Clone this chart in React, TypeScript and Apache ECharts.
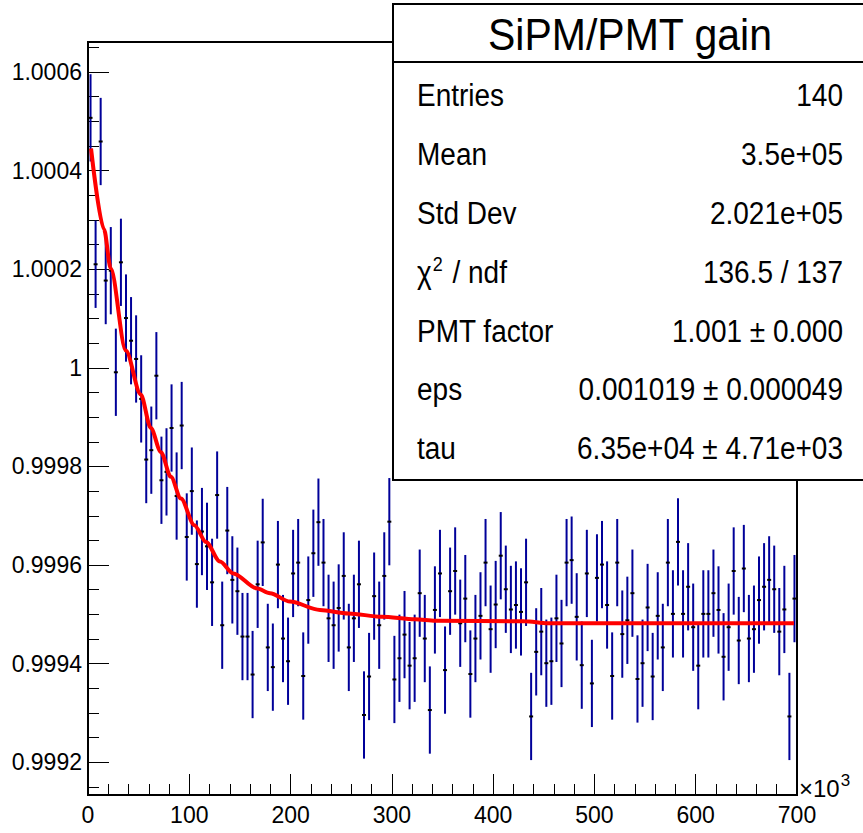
import React, { useEffect, useRef } from "react";
import * as echarts from "echarts";

// bin centres (x10^3) of the 140 bins, width 5
const BIN_WIDTH = 5;
const GAIN: number[] = [
  1.000507, 1.00021, 1.000459, 1.000177, 1.000197, 0.999991, 1.000214, 1.000101, 1.000055, 1.000018,
  0.999937, 0.999814, 0.999833, 0.999984, 0.999772, 0.999789, 0.999878, 0.99974, 0.999883, 0.999657,
  0.99975, 0.999602, 0.999668, 0.999638, 0.999565, 0.999742, 0.999478, 0.99967, 0.99957, 0.999547,
  0.999455, 0.999455, 0.999378, 0.999561, 0.999646, 0.999433, 0.999393, 0.999601, 0.999451, 0.999405,
  0.999583, 0.999605, 0.999375, 0.999529, 0.999624, 0.999687, 0.999605, 0.999492, 0.999478, 0.999513,
  0.999578, 0.999433, 0.999492, 0.999561, 0.999296, 0.999374, 0.999537, 0.999478, 0.999578, 0.999688,
  0.999368, 0.999411, 0.999459, 0.999396, 0.999411, 0.999543, 0.999451, 0.999306, 0.999509, 0.999583,
  0.999387, 0.999547, 0.999588, 0.999482, 0.999532, 0.999379, 0.999451, 0.999497, 0.999605, 0.99947,
  0.99952, 0.999619, 0.999551, 0.99951, 0.999519, 0.999505, 0.999565, 0.999293, 0.999424, 0.999465,
  0.999401, 0.999405, 0.999492, 0.999441, 0.999605, 0.99961, 0.999495, 0.999397, 0.999583, 0.99936,
  0.999574, 0.999601, 0.999519, 0.999375, 0.999605, 0.99946, 0.999488, 0.999543, 0.999369, 0.999401,
  0.999514, 0.999374, 0.999497, 0.999433, 0.999605, 0.999501, 0.999647, 0.999501, 0.999556, 0.999474,
  0.999396, 0.999501, 0.999501, 0.999543, 0.999509, 0.999414, 0.999474, 0.999588, 0.999447, 0.999593,
  0.999451, 0.99947, 0.999529, 0.999556, 0.99957, 0.999551, 0.999465, 0.99951, 0.999293, 0.999532,
];
const GAIN_ERR = 0.0000885;

// fit curve
const FIT_X: number[] = [3, 15.8, 22.4, 37.3, 52.1, 62, 72, 81.8, 91.7, 105, 116.5, 130.3, 143.4, 166.5, 179.7, 199.4, 229, 257, 290, 323, 343, 431, 454, 697];
const FIT_Y: number[] = [
  1.000445, 1.000281, 1.000202, 1.000035, 0.999946, 0.999878, 0.999829, 0.999779, 0.999735, 0.999681,
  0.999647, 0.999607, 0.999583, 0.999553, 0.999543, 0.999526, 0.999509, 0.999502, 0.999495, 0.99949,
  0.999487, 0.999486, 0.999482, 0.999482,
];

const X_LABELS = ["0", "100", "200", "300", "400", "500", "600", "700"];
const Y_TICKS = [0.9992, 0.9994, 0.9996, 0.9998, 1.0, 1.0002, 1.0004, 1.0006];
const Y_LABELS = ["0.9992", "0.9994", "0.9996", "0.9998", "1", "1.0002", "1.0004", "1.0006"];
const Y_MINOR = [
  0.99915, 0.99925, 0.9993, 0.99935, 0.99945, 0.9995, 0.99955, 0.99965, 0.9997, 0.99975, 0.99985,
  0.9999, 0.99995, 1.00005, 1.0001, 1.00015, 1.00025, 1.0003, 1.00035, 1.00045, 1.0005, 1.00055, 1.00065,
];

const STAT_LABELS = ["Entries", "Mean", "Std Dev", "χ{s|2} / ndf", "PMT factor", "eps", "tau"];
const STAT_VALUES = ["140", "3.5e+05", "2.021e+05", "136.5 / 137", "1.001 ± 0.000", "0.001019 ± 0.000049", "6.35e+04 ± 4.71e+03"];
const TITLE = "SiPM/PMT gain";

const FONT = "'Liberation Sans', Arial, Helvetica, sans-serif";

export default function App() {
  const ref = useRef<HTMLDivElement>(null);
  useEffect(() => {
    if (!ref.current) return;
    const chart = echarts.init(ref.current, null, { renderer: "svg" });
    const pts = GAIN.map((v, i) => [i * BIN_WIDTH + BIN_WIDTH / 2, v, GAIN_ERR]);
    const fit = FIT_X.map((x, i) => [x, FIT_Y[i]]);
    const yMin = 0.9991337;
    const yMax = 1.0006608;

    const statTexts: any[] = [];
    const rowY0 = 95;
    const rowStep = 58.9;
    const supRich = { s: { fontSize: 18, fontFamily: FONT, fill: "#000", padding: [0, 2, 14, 1] } };
    STAT_LABELS.forEach((l, i) => {
      statTexts.push({
        type: "text",
        x: 417,
        y: rowY0 + i * rowStep,
        scaleY: 1.1,
        style: { text: l, font: `28px ${FONT}`, fill: "#000", textAlign: "left", textVerticalAlign: "middle", rich: supRich },
        z: 101,
      });
      statTexts.push({
        type: "text",
        x: 843,
        y: rowY0 + i * rowStep,
        scaleY: 1.1,
        style: { text: STAT_VALUES[i], font: `28px ${FONT}`, fill: "#000", textAlign: "right", textVerticalAlign: "middle" },
        z: 101,
      });
    });

    chart.setOption({
      animation: false,
      backgroundColor: "#fff",
      grid: { left: 88, top: 42, right: 66, bottom: 38, show: true, borderColor: "#000", borderWidth: 2, backgroundColor: "transparent" },
      xAxis: {
        type: "value",
        min: 0,
        max: 700,
        interval: 100,
        axisLine: { show: false },
        axisTick: { show: true, inside: true, length: 21, lineStyle: { color: "#000", width: 1 } },
        minorTick: { show: true, splitNumber: 5, length: 11, lineStyle: { color: "#000", width: 1 } },
        splitLine: { show: false },
        axisLabel: {
          margin: 8,
          color: "#000",
          fontSize: 23,
          fontFamily: FONT,
          formatter: (v: number) => X_LABELS[Math.round(v / 100)] ?? "",
        },
      },
      yAxis: [
        {
          type: "value",
          min: yMin,
          max: yMax,
          axisLine: { show: false },
          splitLine: { show: false },
          axisTick: { show: true, inside: true, length: 21, customValues: Y_TICKS, lineStyle: { color: "#000", width: 1 } },
          axisLabel: {
            customValues: Y_TICKS,
            margin: 6,
            color: "#000",
            fontSize: 23,
            fontFamily: FONT,
            formatter: (v: number) => {
              let best = 0;
              Y_TICKS.forEach((t, i) => {
                if (Math.abs(t - v) < Math.abs(Y_TICKS[best] - v)) best = i;
              });
              return Y_LABELS[best];
            },
          },
        },
        {
          type: "value",
          min: yMin,
          max: yMax,
          position: "left",
          axisLine: { show: false },
          splitLine: { show: false },
          axisTick: { show: true, inside: true, length: 11, customValues: Y_MINOR, lineStyle: { color: "#000", width: 1 } },
          axisLabel: { show: false },
        },
      ],
      series: [
        {
          type: "custom",
          yAxisIndex: 0,
          data: pts,
          z: 3,
          renderItem: (params: any, api: any) => {
            const x = api.value(0);
            const y = api.value(1);
            const e = api.value(2);
            const t = api.coord([x, y + e]);
            const b = api.coord([x, y - e]);
            const c = api.coord([x, y]);
            return {
              type: "group",
              children: [
                { type: "line", shape: { x1: t[0], y1: t[1], x2: b[0], y2: b[1] }, style: { stroke: "#000099", lineWidth: 2 } },
                { type: "rect", shape: { x: c[0] - 2, y: c[1] - 1, width: 4, height: 2 }, style: { fill: "#000" } },
              ],
            };
          },
        },
        {
          type: "line",
          yAxisIndex: 0,
          data: fit,
          showSymbol: false,
          smooth: 0.3,
          smoothMonotone: "x",
          lineStyle: { color: "#ff0000", width: 4 },
          z: 4,
        },
      ],
      graphic: [
        {
          type: "rect",
          shape: { x: 393, y: 4, width: 480, height: 476 },
          style: { fill: "#fff", stroke: "#000", lineWidth: 2 },
          z: 100,
        },
        {
          type: "line",
          shape: { x1: 393, y1: 62, x2: 863, y2: 62 },
          style: { stroke: "#000", lineWidth: 2 },
          z: 101,
        },
        {
          type: "text",
          x: 630,
          y: 34,
          scaleY: 1.1,
          style: { text: TITLE, font: `41px ${FONT}`, fill: "#000", textAlign: "center", textVerticalAlign: "middle" },
          z: 101,
        },
        ...statTexts,
        {
          type: "text",
          x: 799,
          y: 788,
          style: {
            text: "×10{s|3}",
            font: `24px ${FONT}`,
            fill: "#000",
            textAlign: "left",
            textVerticalAlign: "middle",
            rich: { s: { fontSize: 17, fontFamily: FONT, fill: "#000", padding: [0, 0, 16, 1] } },
          },
          z: 101,
        },
      ],
    });
    return () => chart.dispose();
  }, []);
  return (
    <div
      ref={ref}
      style={{ position: "absolute", left: 0, top: 0, width: 863, height: 833, background: "#fff" }}
    />
  );
}
